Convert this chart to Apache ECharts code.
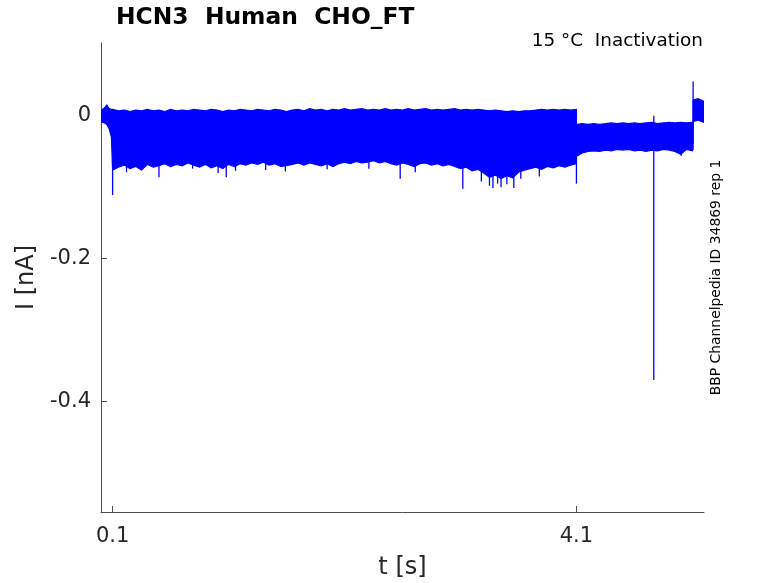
<!DOCTYPE html>
<html>
<head>
<meta charset="utf-8">
<script src="https://cdn.jsdelivr.net/npm/echarts@6/dist/echarts.min.js"></script>
<style>html,body{margin:0;padding:0;background:#fff}#c{width:778px;height:583px}</style>
</head>
<body>
<div id="c"></div>
<script>
// ---- data ----
const titleText = 'HCN3  Human  CHO_FT';
const conditionText = '15 °C  Inactivation';
const sideText = 'BBP Channelpedia ID 34869 rep 1';
const xTicks = [0.1, 4.1];
const yTicks = [0, -0.2, -0.4];

// segment 1: envelope of the overlaid sweeps before the step (t in s, I in nA)
const seg1Time  = [0, 0.03, 0.05, 0.07, 0.09,
  0.10, 0.15, 0.20, 0.25, 0.30, 0.35, 0.40, 0.45, 0.50, 0.55, 0.60, 0.65, 0.70, 0.75, 0.80, 0.85, 0.90, 0.95,
  1.00, 1.05, 1.10, 1.15, 1.20, 1.25, 1.30, 1.35, 1.40, 1.45, 1.50, 1.55, 1.60, 1.65, 1.70, 1.75, 1.80, 1.85, 1.90, 1.95,
  2.00, 2.05, 2.10, 2.15, 2.20, 2.25, 2.30, 2.35, 2.40, 2.45, 2.50, 2.55, 2.60, 2.65, 2.70, 2.75, 2.80, 2.85, 2.90, 2.95,
  3.00, 3.05, 3.10, 3.15, 3.20, 3.25, 3.30, 3.35, 3.40, 3.45, 3.50, 3.55, 3.60, 3.65, 3.70, 3.75, 3.80, 3.85, 3.90, 3.95,
  4.00, 4.05, 4.10];
const seg1Upper = [0.008, 0.011, 0.015, 0.010, 0.009,
  0.009, 0.007, 0.008, 0.006, 0.008, 0.007, 0.009, 0.007, 0.008, 0.006, 0.009, 0.007, 0.008, 0.007, 0.009, 0.008, 0.007, 0.009,
  0.008, 0.006, 0.008, 0.007, 0.009, 0.008, 0.007, 0.009, 0.008, 0.007, 0.009, 0.008, 0.006, 0.008, 0.009, 0.007, 0.010, 0.008, 0.009, 0.007,
  0.009, 0.008, 0.010, 0.008, 0.009, 0.010, 0.008, 0.009, 0.008, 0.010, 0.008, 0.009, 0.008, 0.010, 0.008, 0.009, 0.010, 0.008, 0.009, 0.008,
  0.009, 0.010, 0.008, 0.009, 0.008, 0.009, 0.008, 0.007, 0.008, 0.007, 0.006, 0.007, 0.006, 0.007, 0.007, 0.008, 0.009, 0.008, 0.009, 0.008,
  0.009, 0.008, 0.009];
const seg1Lower = [-0.008, -0.010, -0.012, -0.018, -0.030,
  -0.076, -0.072, -0.069, -0.074, -0.071, -0.076, -0.068, -0.072, -0.070, -0.067, -0.071, -0.068, -0.070, -0.066, -0.069, -0.072, -0.068, -0.073,
  -0.070, -0.074, -0.068, -0.071, -0.067, -0.069, -0.066, -0.068, -0.065, -0.069, -0.067, -0.071, -0.070, -0.068, -0.066, -0.069, -0.066, -0.068, -0.070, -0.067,
  -0.071, -0.067, -0.065, -0.067, -0.064, -0.066, -0.065, -0.063, -0.066, -0.064, -0.067, -0.069, -0.066, -0.068, -0.071, -0.067, -0.066, -0.069, -0.067, -0.070,
  -0.068, -0.071, -0.074, -0.072, -0.077, -0.075, -0.080, -0.086, -0.083, -0.088, -0.084, -0.087, -0.079, -0.076, -0.074, -0.072, -0.075, -0.071, -0.073, -0.070,
  -0.072, -0.069, -0.067];

// segment 2: after the step at 4.1 s
const seg2Time  = [4.11, 4.15, 4.20, 4.25, 4.30, 4.35, 4.40, 4.45, 4.50, 4.55, 4.60, 4.65, 4.70, 4.75, 4.80, 4.85, 4.90, 4.95, 5.00, 5.05, 5.10, 5.106];
const seg2Upper = [-0.012, -0.011, -0.012, -0.011, -0.012, -0.011, -0.010, -0.011, -0.010, -0.011, -0.010, -0.011, -0.010, -0.009, -0.011, -0.010, -0.009, -0.010, -0.009, -0.010, -0.009, -0.009];
const seg2Lower = [-0.056, -0.052, -0.050, -0.049, -0.050, -0.048, -0.049, -0.047, -0.048, -0.047, -0.049, -0.048, -0.050, -0.048, -0.049, -0.047, -0.048, -0.050, -0.054, -0.047, -0.049, -0.047];

// segment 3: tail
const seg3Time  = [5.106, 5.15, 5.2];
const seg3Upper = [0.022, 0.024, 0.020];
const seg3Lower = [-0.008, -0.006, -0.009];

// isolated transients: time, start current, peak current
const spikeTime = [0.05, 0.10, 0.22, 0.50, 0.79, 1.01, 1.08, 1.16, 1.42, 1.59, 1.95, 2.31, 2.58, 2.71, 3.12, 3.28, 3.35, 3.38, 3.42, 3.45, 3.50, 3.56, 3.62, 3.78, 4.10, 4.767, 4.767, 5.003, 5.106];
const spikeFrom = [0.005, -0.06, -0.06, -0.06, -0.06, -0.06, -0.06, -0.06, -0.06, -0.06, -0.06, -0.06, -0.06, -0.06, -0.06, -0.07, -0.07, -0.07, -0.07, -0.07, -0.07, -0.07, -0.07, -0.06, -0.06, -0.03, -0.02, -0.04, -0.04];
const spikePeak = [0.015, -0.111, -0.079, -0.086, -0.074, -0.080, -0.086, -0.077, -0.076, -0.078, -0.075, -0.074, -0.088, -0.079, -0.102, -0.092, -0.098, -0.101, -0.095, -0.100, -0.096, -0.101, -0.088, -0.085, -0.095, -0.370, 0.000, -0.056, 0.048];

// ---- build ----
const segments = [
  {t: seg1Time, up: seg1Upper, lo: seg1Lower},
  {t: seg2Time, up: seg2Upper, lo: seg2Lower},
  {t: seg3Time, up: seg3Upper, lo: seg3Lower}
];
const BLUE = '#0000ff';
const TXT = '#262626';
const AX = '#4d4d4d';
const FONT = 'DejaVu Sans';

const chart = echarts.init(document.getElementById('c'), null, {renderer: 'canvas'});
chart.setOption({
  animation: false,
  backgroundColor: '#ffffff',
  grid: {left: 101, top: 43, right: 74, bottom: 71, containLabel: false, outerBoundsMode: 'none'},
  xAxis: {
    type: 'value', min: 0, max: 5.2,
    name: 't [s]', nameLocation: 'middle', nameGap: 44,
    nameTextStyle: {fontFamily: FONT, fontSize: 24, color: TXT},
    axisLine: {show: true, onZero: false, lineStyle: {color: AX, width: 1}},
    axisTick: {show: true, inside: true, length: 6, customValues: xTicks, lineStyle: {color: AX}},
    axisLabel: {show: true, customValues: xTicks, margin: 14, fontFamily: FONT, fontSize: 21, color: TXT,
      formatter: v => v.toFixed(1)},
    splitLine: {show: false}
  },
  yAxis: {
    type: 'value', min: -0.555, max: 0.102,
    name: 'I [nA]', nameLocation: 'middle', nameGap: 61, nameRotate: 90,
    nameTextStyle: {fontFamily: FONT, fontSize: 24, color: TXT},
    axisLine: {show: true, onZero: false, lineStyle: {color: AX, width: 1}},
    axisTick: {show: true, inside: true, length: 6, customValues: yTicks, lineStyle: {color: AX}},
    axisLabel: {show: true, customValues: yTicks, margin: 10, fontFamily: FONT, fontSize: 21, color: TXT,
      padding: [6, 0, 0, 0],
      formatter: v => (Math.abs(v) < 1e-9 ? '0' : v.toFixed(1))},
    splitLine: {show: false}
  },
  graphic: [
    {type: 'text', x: 116, y: 18, style: {text: titleText, fontFamily: FONT, fontWeight: 'bold', fontSize: 23.4, fill: '#000', textVerticalAlign: 'middle'}},
    {type: 'text', x: 703, y: 41, style: {text: conditionText, fontFamily: FONT, fontSize: 18.4, fill: '#000', textAlign: 'right', textVerticalAlign: 'middle'}},
    {type: 'text', x: 716.5, y: 277.5, rotation: Math.PI / 2, style: {text: sideText, fontFamily: FONT, fontSize: 13.9, fill: '#000', textAlign: 'center', textVerticalAlign: 'middle'}}
  ],
  series: [
    {
      type: 'custom', name: 'sweeps',
      coordinateSystem: 'cartesian2d', clip: true,
      data: segments.map((s, i) => [s.t[0], s.up[0], i]),
      renderItem: function (params, api) {
        const s = segments[params.dataIndex];
        const pts = [];
        for (let k = 0; k < s.t.length; k++) pts.push(api.coord([s.t[k], s.up[k]]));
        for (let k = s.t.length - 1; k >= 0; k--) pts.push(api.coord([s.t[k], s.lo[k]]));
        return {type: 'polygon', shape: {points: pts}, style: {fill: BLUE, stroke: BLUE, lineWidth: 1.2}};
      },
      z: 2
    },
    {
      type: 'custom', name: 'spikes',
      coordinateSystem: 'cartesian2d', clip: true,
      data: spikeTime.map((t, i) => [t, spikeFrom[i], spikePeak[i]]),
      renderItem: function (params, api) {
        const a = api.coord([api.value(0), api.value(1)]);
        const b = api.coord([api.value(0), api.value(2)]);
        return {type: 'line', shape: {x1: a[0], y1: a[1], x2: b[0], y2: b[1]}, style: {stroke: BLUE, lineWidth: 1.3}};
      },
      z: 3
    }
  ]
});
</script>
</body>
</html>
